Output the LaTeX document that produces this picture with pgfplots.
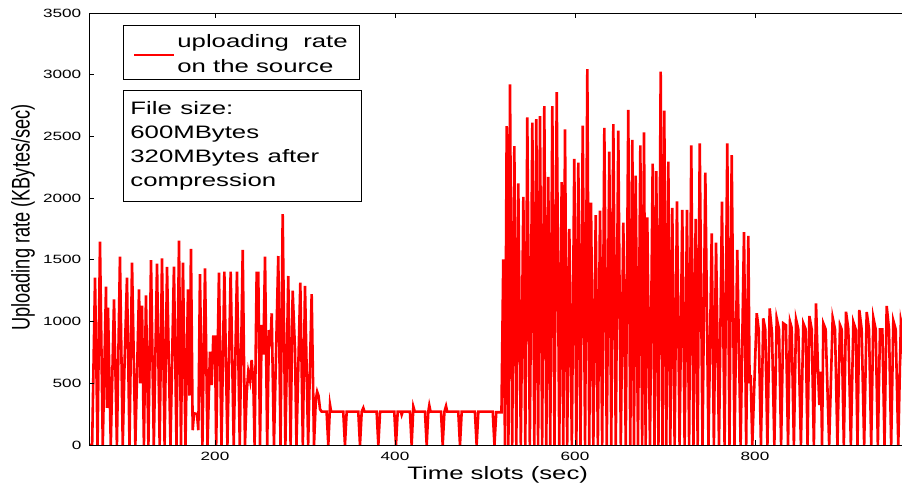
\documentclass[border=0pt]{standalone}
\usepackage{fontspec}
\setmainfont{Liberation Sans}
\usepackage{graphicx}
\usepackage{pgfplots}
\pgfplotsset{compat=1.18}
\newcommand{\hs}[1]{\scalebox{1.43}[1]{#1}}
\begin{document}
\begin{tikzpicture}
\useasboundingbox (0,0) rectangle (902pt,486pt);
\clip (0,0) rectangle (902pt,486pt);
\begin{axis}[
  at={(89pt,41pt)}, anchor=south west,
  scale only axis, width=819pt, height=432pt,
  xmin=60, xmax=970, ymin=0, ymax=3500,
  xtick={200,400,600,800},
  xticklabels={\hs{200},\hs{400},\hs{600},\hs{800}},
  ytick={0,500,1000,1500,2000,2500,3000,3500},
  yticklabels={\hs{0},\hs{500},\hs{1000},\hs{1500},\hs{2000},\hs{2500},\hs{3000},\hs{3500}},
  tick align=inside, major tick length=5pt,
  tick style={black, line width=0.8pt},
  axis line style={line width=0.9pt},
  axis on top,
  ticklabel style={font=\fontsize{12}{14}\selectfont},
  xticklabel style={anchor=north, inner sep=0pt, yshift=-6.7pt},
  yticklabel style={anchor=east, inner sep=0pt, xshift=-7.5pt},
  xlabel={\hs{Time slots (sec)}},
  xlabel style={at={(axis description cs:0.499,-0.081)}, anchor=base, font=\fontsize{18}{22}\selectfont, inner sep=0pt},
  ylabel={\scalebox{1}[1.4]{Uploading rate (KBytes/sec)}},
  ylabel style={at={(axis description cs:-0.0806,0.5266)}, anchor=center, font=\fontsize{18.2}{22}\selectfont, inner sep=0pt},
  legend style={at={(axis description cs:0.0415,0.972)}, anchor=north west,
    draw=black, line width=0.8pt, inner xsep=10pt, inner ysep=3pt,
    font=\fontsize{18}{24.5}\selectfont,
    cells={align=left, anchor=west}},
  legend image code/.code={\draw[red, line width=2pt] (0pt,-3pt) -- (40pt,-3pt);},
]
\addplot[red, line width=2.6pt] coordinates {
(60,0) (63.5,0) (66.7,1355) (69.5,0) (72.2,1647) (75.3,0) (78.9,1282) (80,300) (81.1,1112) (84.2,0)
(87.8,1180) (91,0) (94.4,1525) (97.5,0) (99.5,660) (102.2,1355) (105,0) (107.8,1477) (111.5,0)
(115.6,1261) (117,500) (118.9,1128) (121,0) (123.3,1212) (126,0) (128.9,1498) (132,0) (135.6,1469)
(138.5,0) (141.1,1512) (144,0) (146.7,1442) (150.5,0) (154.4,1444) (157.2,0) (160,1655) (162.2,0)
(164.4,1477) (167.2,0) (170,1261) (171.6,400) (173.3,1588) (175.2,120) (176.7,257) (180,250) (181.5,120)
(183.3,1385) (186,0) (188.9,1431) (191.7,0) (194.4,756) (196.3,486) (198.1,877) (200,877) (201.3,0)
(204.4,1396) (207.2,0) (210.4,1404) (213.8,0) (217.4,1404) (220.8,0) (224.4,1404) (227.5,0)
(230.8,1580) (233.3,0) (235.2,421) (237,594) (239,520) (240.7,689) (242.6,500) (244,0)
(246.3,1404) (247.2,1100) (248.1,1404) (250,0) (251.9,972) (253.7,733) (255.6,1525) (258,0)
(260,931) (261.5,800) (263,1067) (265.5,0) (270.3,1531) (272.8,0) (275.2,1871) (278.2,0)
(281.4,1369) (284,0) (286.3,1250) (288.9,770) (290.5,0) (294.8,1315) (297.6,0) (300,1288) (303.5,0)
(307.4,1223) (310,0) (312,365) (313.5,432) (315,400) (316.7,290) (318.5,270)
(324,270) (325.9,0) (327.8,324) (329,270) (342.5,270) (344.4,0) (346.3,270) (359.2,270) (361.1,0)
(363,270) (364.8,300) (366,270) (379.6,270) (381.5,0) (383.4,270) (399.2,270) (401.1,0) (403,270)
(406.5,270) (407.4,245) (408.5,270) (416.6,270) (418.5,0) (420.4,310) (422,270) (433.3,270) (435.2,0)
(437,270) (438.1,320) (439.5,270) (451.1,270) (453,0) (454.9,270) (456.7,315) (458,270) (470.3,270)
(472.2,0) (474.1,270) (488.8,270) (490.7,0) (492.6,270) (508.6,270) (510.5,0) (512.5,265) (518.3,265)
(520.3,1504) (522.2,0) (524.1,2584) (526,0) (527.8,2922) (530.2,0) (532.6,2422) (534.8,0) (537,2120)
(539.8,0) (542.6,2011) (544.8,0) (547,2654) (549.8,0) (552.6,2611) (554.8,0) (557,2641) (559,0)
(561.1,2665) (563.5,0) (565.9,2746) (568.1,0) (570.3,2173) (572.5,0) (574.8,2746) (577.2,0)
(579.7,2859) (582.5,0) (585.2,2130) (587,0) (588.9,2557) (591.3,0) (593.7,1750) (596.5,0)
(599.2,2317) (601.5,0) (603.7,2287) (606.1,0) (608.6,2587) (611.2,0) (613.7,3046) (615.8,0)
(617.8,1963) (620.4,0) (623,1863) (625.4,0) (627.8,1898) (630.2,0) (632.6,2570) (635.3,0)
(638.1,2376) (640.3,0) (642.6,2600) (645.3,0) (648.1,2546) (650.9,0) (653.7,1801) (656.4,0)
(659.2,2714) (661.4,0) (663.7,2471) (665.5,0) (667.4,2182) (670,0) (672.6,2427) (674.6,0)
(676.7,2533) (678.5,0) (680.3,1844) (683.3,0) (686.3,2279) (688.3,0) (690.3,2219) (692.7,0)
(695.2,3024) (697.2,0) (699.2,2709) (701.4,0) (703.7,2295) (705.9,0) (708.1,1922) (710.7,0)
(713.3,1974) (716.2,0) (719.2,1904) (721.8,0) (724.4,1904) (726.8,0) (729.2,2427) (731.6,0)
(734.1,1831) (736.3,0) (738.6,2444) (741.7,0) (744.8,2206) (748.3,0) (751.9,1715) (754.3,0)
(756.7,1639) (760,0) (763.3,1971) (766.2,0) (769.2,2444) (771.6,0) (774.1,2349) (777.2,0)
(780.3,1580) (784,0) (787.8,1725) (790.2,0) (792.6,1695) (794,500) (795.2,567) (797,0)
(801.9,1067) (804.1,937) (806.6,0) (809.2,1026) (811.4,937) (813.8,0) (816.3,1107) (818.9,905)
(821.5,0) (824.1,1026) (826.7,937) (829,0) (831.4,986) (834.4,970) (836.7,0) (838.9,999) (840.7,950)
(843.2,0) (845.6,1018) (848.1,937) (851,0) (853.7,986) (856.3,937) (858.4,0) (860.4,1045) (863,937)
(865.4,0) (867.8,1148) (870,600) (871.5,324) (873.3,594) (874.5,0) (875.9,986) (878.5,937) (882.4,0)
(886.3,1031) (888.9,937) (891.6,0) (894.4,972) (896.3,937) (898.7,0) (901.1,1080) (903.7,937)
(906.5,0) (909.3,996) (911.9,937) (913.9,0) (915.9,1094) (918.5,937) (921.3,0) (924.1,1077)
(926.7,937) (929.1,0) (931.5,1031) (934.1,937) (936.5,0) (938.9,937) (941.5,937) (943.9,0)
(946.3,1126) (948.9,937) (951.3,0) (953.7,1007) (956.3,937) (959.2,0) (962.1,1007) (964,937) (967,0)
};
\addlegendentry{\rule{0pt}{17.5pt}\hs{uploading~~rate}\\\hs{on the source}}
\node[draw=black, line width=0.8pt, anchor=north west, align=left,
  font=\fontsize{18}{24.3}\selectfont, inner xsep=7pt, inner ysep=10.6pt, text width=224pt]
  at (axis description cs:0.0415,0.8218)
  {\hs{File size:}\\\hs{600MBytes}\\\hs{320MBytes after}\\\hs{compression}};
\end{axis}
\end{tikzpicture}
\end{document}
